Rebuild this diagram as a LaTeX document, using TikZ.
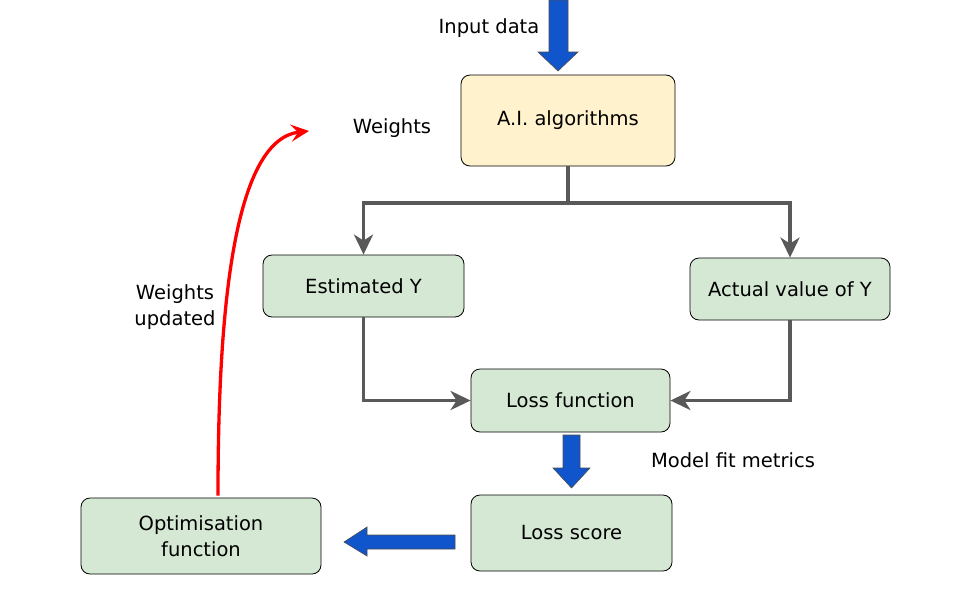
\documentclass[tikz,border=0pt]{standalone}
\usepackage{fontspec}
\setmainfont{DejaVu Sans}
\usetikzlibrary{arrows.meta,positioning}
\definecolor{yfill}{HTML}{FFF2CC}
\definecolor{gfill}{HTML}{D5E8D4}
\definecolor{lgray}{HTML}{595959}
\definecolor{bblue}{HTML}{1155CC}
\tikzset{
  box/.style={draw=black, rounded corners=9pt, line width=0.8pt, align=center, font=\fontsize{19.5}{26}\selectfont, inner sep=0pt},
  conn/.style={draw=lgray, line width=3.5pt, -{Stealth[length=20pt,width=19pt,inset=6pt]}},
  red/.style={draw=red, line width=3.3pt, -{Stealth[length=18pt,width=17pt,inset=7pt]}},
  blk/.style={fill=bblue, draw=black!70, line width=0.6pt},
  lbl/.style={font=\fontsize{19.5}{26}\selectfont, align=center}
}
\begin{document}
\begin{tikzpicture}[x=1pt,y=-1pt]
\useasboundingbox (0,0) rectangle (960,600);
\node[box, fill=yfill, minimum width=214pt, minimum height=91pt] (ai) at (568,120.5) {A.I. algorithms};
\node[box, fill=gfill, minimum width=201pt, minimum height=62pt] (est) at (363.5,286) {Estimated Y};
\node[box, fill=gfill, minimum width=200pt, minimum height=62pt] (act) at (790,289) {Actual value of Y};
\node[box, fill=gfill, minimum width=199pt, minimum height=63pt] (loss) at (570.5,400.5) {Loss function};
\node[box, fill=gfill, minimum width=201pt, minimum height=76pt] (score) at (571.5,533) {Loss score};
\node[box, fill=gfill, minimum width=240pt, minimum height=76pt] (opt) at (201,536) {Optimisation\\function};

\node[lbl] (tin) at (489,28) {Input data};
\node[lbl] (tw) at (392,128) {Weights};
\node[lbl] (twu) at (175,307) {Weights\\updated};
\node[lbl] (tm) at (733,460) {Model fit metrics};

\coordinate (split) at (568,203);
\draw[draw=lgray, line width=3.5pt] (ai.south) -- (split);
\draw[conn] (split) -| (est.north);
\draw[conn] (split) -| (act.north);
\draw[conn] (est.south) |- (loss.west);
\draw[conn] (act.south) |- (loss.east);

% blue block arrows
\draw[blk] (549,0) -- (568,0) -- (568,52) -- (578,52) -- (558,71) -- (538,52) -- (549,52) -- cycle;
\draw[blk] (563,435) -- (580,435) -- (580,468) -- (590,468) -- (571.5,488) -- (553,468) -- (563,468) -- cycle;
\draw[blk] (455,535) -- (367,535) -- (367,527) -- (344,542) -- (367,556) -- (367,549) -- (455,549) -- cycle;

\coordinate (rtip) at (309,131);
\draw[red] (opt.north -| 218,0) ++(0,-2) .. controls (218,330) and (230,140) .. (rtip);
\end{tikzpicture}
\end{document}
